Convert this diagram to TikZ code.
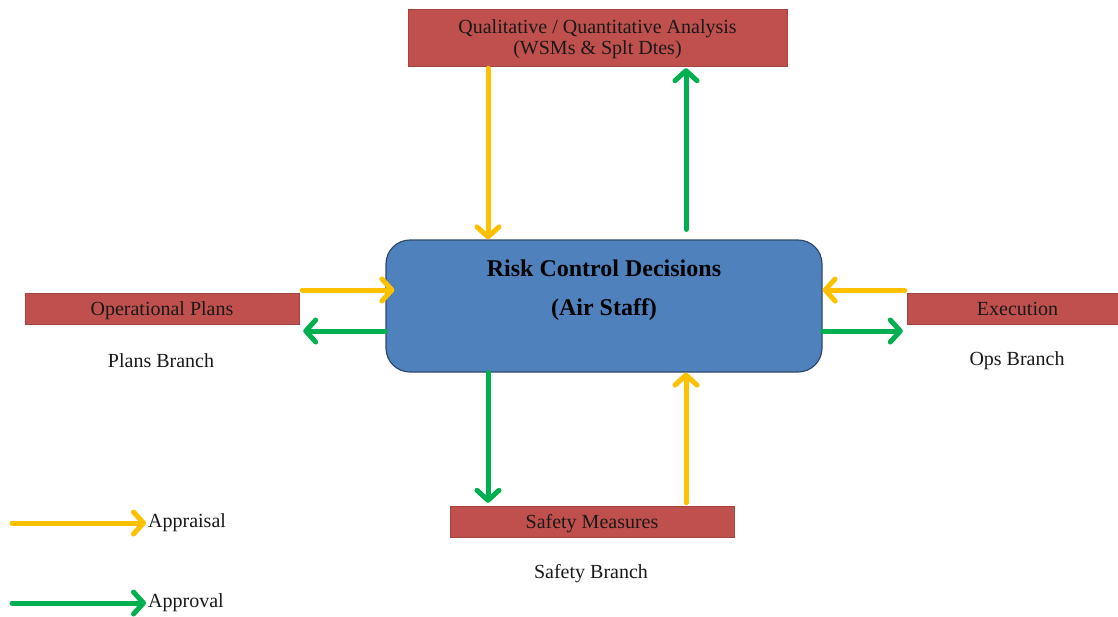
\documentclass[tikz,border=0pt]{standalone}
\usepackage{fontspec}
\setmainfont{Liberation Serif}
\usetikzlibrary{arrows.meta,calc}
\definecolor{boxred}{HTML}{C0504D}
\definecolor{boxblue}{HTML}{4F81BD}
\definecolor{blueedge}{HTML}{2E4A6B}
\definecolor{appr}{HTML}{FFC000}
\definecolor{aprv}{HTML}{00B050}
\begin{document}
\begin{tikzpicture}[x=1pt,y=-1pt,
  redbox/.style={fill=boxred, draw=boxred!85!black, line width=0.4pt, inner sep=0pt,
    font=\fontsize{20}{21}\selectfont, text=black!90, align=center, text depth=0pt},
  lbl/.style={font=\fontsize{20}{22}\selectfont, text=black!90, inner sep=2pt},
  ttl/.style={font=\fontsize{24}{26}\selectfont\bfseries, text=black},
  arrowbase/.style={line width=5pt, line cap=round,
    -{Straight Barb[length=10pt,width=22pt,line cap=round,line join=round]}},
  yarr/.style={arrowbase, draw=appr},
  garr/.style={arrowbase, draw=aprv}]
\useasboundingbox (0,0) rectangle (1118,616);

% boxes
\node[redbox, minimum width=379pt, minimum height=57pt] (qa) at (597.5,37.5)
  {Qualitative / Quantitative Analysis\\(WSMs \& Splt Dtes)};
\node[fill=boxblue, draw=blueedge, line width=1.2pt, rounded corners=24pt,
  minimum width=436pt, minimum height=132pt] (rcd) at (604,306) {};
\node[ttl] (t1) at (604,268) {Risk Control Decisions};
\node[ttl] (t2) at (604,310) {(Air Staff)};
\node[redbox, minimum width=274pt, minimum height=31pt] (op) at (162,308.5) {Operational Plans};
\node[redbox, minimum width=211pt, minimum height=31pt] (ex) at (1012.5,308.5) {\hspace*{10pt}Execution};
\node[redbox, minimum width=284pt, minimum height=31pt] (sm) at (592,521.5) {Safety Measures};

% labels
\node[lbl] (pb) at (161,361) {Plans Branch};
\node[lbl] (ob) at (1017,361) {Ops Branch};
\node[lbl] (sb) at (591,574) {Safety Branch};

% helper coordinates
\coordinate (xl) at (488,0);
\coordinate (xr) at (686,0);
\coordinate (yu) at (0,290);
\coordinate (yd) at (0,331);

% connectors
\draw[yarr, shorten <=2pt] (qa.south -| xl) -- (rcd.north -| xl);
\draw[garr, shorten <=10pt, shorten >=2pt] (rcd.north -| xr) -- (qa.south -| xr);
\draw[yarr, shorten <=3pt, shorten >=-9pt] (op.east |- yu) -- (rcd.west |- yu);
\draw[garr, shorten >=4pt] (rcd.west |- yd) -- (op.east |- yd);
\draw[yarr, shorten <=2pt] (ex.west |- yu) -- (rcd.east |- yu);
\draw[garr, shorten >=4pt] (rcd.east |- yd) -- (ex.west |- yd);
\draw[garr, shorten >=3pt] (rcd.south -| xl) -- (sm.north -| xl);
\draw[yarr, shorten <=3pt] (sm.north -| xr) -- (rcd.south -| xr);

% legend
\node[lbl, anchor=west] (lapp) at (146,523) {Appraisal};
\node[lbl, anchor=west] (lapv) at (146,603) {Approval};
\coordinate (ls1) at (12,523);
\coordinate (ls2) at (12,603);
\draw[yarr] (ls1) -- (lapp.west);
\draw[garr] (ls2) -- (lapv.west);
\end{tikzpicture}
\end{document}
